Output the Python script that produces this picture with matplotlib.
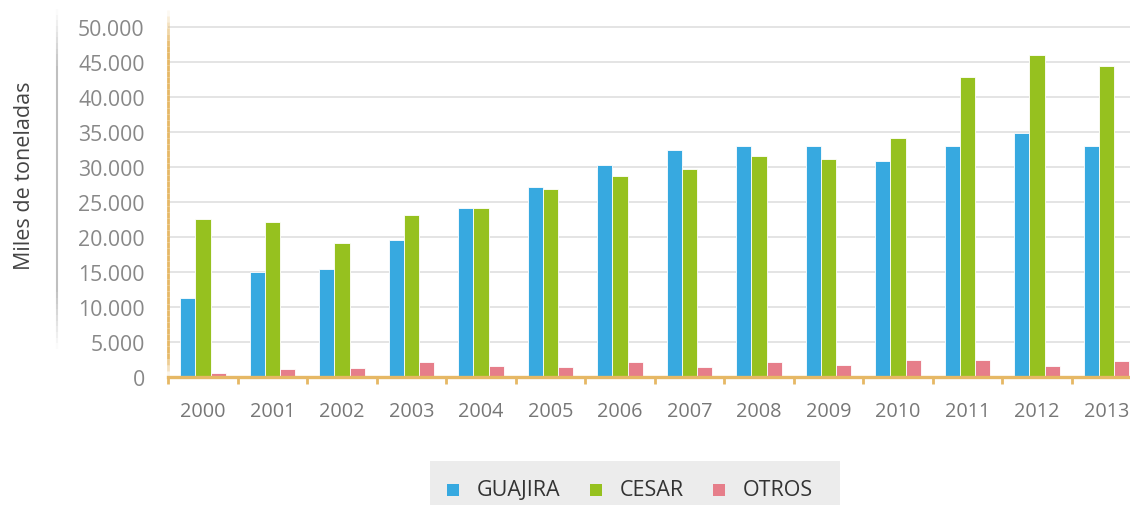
import numpy as np
import matplotlib
matplotlib.use("Agg")
import matplotlib.pyplot as plt
from matplotlib.collections import LineCollection
from matplotlib.patches import Rectangle

# datos (miles de toneladas)
years = ["2000", "2001", "2002", "2003", "2004", "2005", "2006",
         "2007", "2008", "2009", "2010", "2011", "2012", "2013"]
guajira = [11300, 14950, 15400, 19600, 24200, 27200, 30300,
           32500, 33000, 33000, 30800, 33000, 34800, 33000]
cesar = [22600, 22100, 19100, 23200, 24200, 26900, 28700,
         29700, 31600, 31100, 34100, 42900, 46000, 44400]
otros = [600, 1100, 1300, 2100, 1600, 1400, 2200,
         1400, 2200, 1700, 2400, 2400, 1600, 2300]
series_names = ["GUAJIRA", "CESAR", "OTROS"]
colors = ["#37A9E0", "#96C11F", "#E67E8A"]

ORANGE = "#E6B865"
plt.rcParams['font.family'] = ['Open Sans', 'DejaVu Sans']

fig = plt.figure(figsize=(11.3, 5.06), dpi=100)
W, H = 1130, 506
# eje: categorias de 69.5 px desde x=168.25, y=0 en 378 px, 7 px por 1000
ax = fig.add_axes([168.25 / W, (H - 378) / H, 14 * 69.5 / W, 367.5 / H])

x = np.arange(len(years))
bw = 0.22
for i, (vals, name, c) in enumerate(zip([guajira, cesar, otros], series_names, colors)):
    ax.bar(x + (i - 1) * bw, vals, width=bw, color=c, label=name,
           edgecolor="white", linewidth=0.6, zorder=3)

ax.set_xlim(-0.5, len(years) - 0.5)
ax.set_ylim(0, 52500)
yt = np.arange(0, 50001, 5000)
ax.set_yticks(yt)
ax.set_yticklabels(["0" if v == 0 else f"{v // 1000}.000" for v in yt])
for v in yt[1:]:
    ax.axhline(v, color="#dcdcdc", linewidth=1.1, zorder=1)

ax.set_xticks(x)
ax.set_xticklabels(years)
ax.set_xticks(np.arange(-0.5, len(years), 1.0), minor=True)
ax.tick_params(axis="x", which="major", length=0, pad=17, labelsize=14.3, labelcolor="#777777")
ax.tick_params(axis="x", which="minor", length=5, width=2, color=ORANGE, direction="out")
ax.tick_params(axis="y", length=0, pad=17, labelsize=15.3, labelcolor="#888888")

for s in ["top", "right", "left"]:
    ax.spines[s].set_visible(False)
ax.spines["bottom"].set_color(ORANGE)
ax.spines["bottom"].set_linewidth(2.4)
ax.spines["bottom"].set_zorder(4)

# linea vertical naranja con desvanecimiento
n = 60
ys = np.linspace(0, 1, n + 1)
segs = [[(0, ys[k]), (0, ys[k + 1])] for k in range(n)]
mid = (ys[:-1] + ys[1:]) / 2
alpha = np.clip(np.minimum(mid / 0.06, (1 - mid) / 0.10), 0, 1)
lc = LineCollection(segs, colors=[(0.90, 0.72, 0.40, a) for a in alpha],
                    linewidths=2, transform=ax.transAxes, clip_on=False)
ax.add_collection(lc)

# linea gris a la izquierda
gy = np.linspace(10, 350, n + 1)
gsegs = [[(57 / W, 1 - gy[k] / H), (57 / W, 1 - gy[k + 1] / H)] for k in range(n)]
gmid = (gy[:-1] + gy[1:]) / 2
galpha = np.clip(np.minimum((gmid - 10) / 60, (350 - gmid) / 60), 0, 1)
fig.add_artist(LineCollection(gsegs, colors=[(0.75, 0.75, 0.75, a) for a in galpha],
                              linewidths=1.5, transform=fig.transFigure))

fig.text(25 / W, 1 - 176 / H, "Miles de toneladas", rotation=90,
         ha="center", va="center", fontsize=15.5, color="#444444")

# leyenda
fig.add_artist(Rectangle((430 / W, 0), 410 / W, 1 - 462 / H, transform=fig.transFigure,
                         facecolor="#ececec", edgecolor="none"))
sq_x = [447, 590, 713]
txt_x = [477, 620, 743]
for sx, tx, name, c in zip(sq_x, txt_x, series_names, colors):
    fig.add_artist(Rectangle((sx / W, 1 - 497 / H), 12 / W, 12 / H,
                             transform=fig.transFigure, facecolor=c, edgecolor="none"))
    fig.text(tx / W, 1 - 491 / H, name, ha="left", va="center",
             fontsize=15.5, color="#333333")

fig.savefig("out.png", dpi=100)
